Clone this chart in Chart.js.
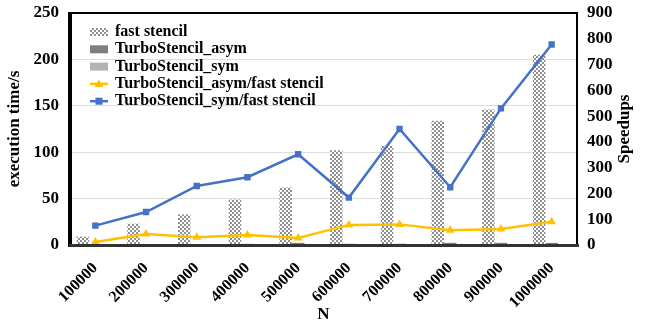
<!DOCTYPE html>
<html>
<head>
<meta charset="utf-8">
<script src="https://cdn.jsdelivr.net/npm/chart.js@4.4.1/dist/chart.umd.min.js"></script>
<style>
  html, body { margin: 0; padding: 0; background: #fff; }
  #wrap { width: 647px; height: 333px; position: relative; }
</style>
</head>
<body>
<div id="wrap"><canvas id="chart"></canvas></div>
<script>
// Problem sizes
const categories = ['100000', '200000', '300000', '400000', '500000',
                    '600000', '700000', '800000', '900000', '1000000'];
// Execution times in seconds
const fastStencil = [9, 23, 33, 49, 62, 102, 107, 134, 146, 205];
const turboAsym   = [0.75, 0.53, 1.1, 1.26, 2.3, 1.3, 1.34, 2.35, 2.35, 2.28];
const turboSym    = [0.12, 0.18, 0.14, 0.19, 0.18, 0.55, 0.24, 0.6, 0.28, 0.26];
// Speedups over fast stencil
const speedupAsym = [12, 43, 30, 39, 27, 78, 80, 57, 62, 90];
const speedupSym  = [75, 128, 229, 263, 352, 184, 450, 224, 530, 778];
// Axis ticks
const timeTicks = [0, 50, 100, 150, 200, 250];
const speedupTicks = [0, 100, 200, 300, 400, 500, 600, 700, 800, 900];

const SERIF = '"Liberation Serif", "Times New Roman", serif';
const BLUE = '#4472C4';
const GOLD = '#FFC000';

// fine checkered fill for the fast stencil bars
function checkerPattern() {
  const t = document.createElement('canvas');
  t.width = 4; t.height = 4;
  const c = t.getContext('2d');
  c.fillStyle = '#ffffff';
  c.fillRect(0, 0, 4, 4);
  c.fillStyle = '#8f8f8f';
  c.fillRect(0, 0, 2, 2);
  c.fillRect(2, 2, 2, 2);
  return c.createPattern(t, 'repeat');
}
const checker = checkerPattern();

// legend drawn inside the plot area, top-left
function drawLegend(chart) {
  const c = chart.ctx;
  const x0 = 90, y0 = 32, row = 17.3;
  c.save();
  c.font = 'bold 16px ' + SERIF;
  c.textBaseline = 'middle';
  c.textAlign = 'left';
  chart.data.datasets.forEach((ds, i) => {
    const y = y0 + i * row;
    if (ds.type === 'line') {
      c.fillStyle = ds.borderColor;
      c.fillRect(x0, y - 1.25, 18, 2.5);
      const mx = x0 + 9;
      if (ds.pointStyle === 'triangle') {
        c.beginPath();
        c.moveTo(mx, y - 4.5);
        c.lineTo(mx + 4.5, y + 3);
        c.lineTo(mx - 4.5, y + 3);
        c.closePath();
        c.fill();
      } else {
        c.fillRect(mx - 3.5, y - 3.5, 7, 7);
      }
    } else {
      c.fillStyle = ds.backgroundColor;
      c.fillRect(x0, y - 4, 18, 8);
    }
    c.fillStyle = '#000';
    c.fillText(ds.label, x0 + 25, y);
  });
  c.restore();
}

// black frame around the plot, taken from the scale extents
function drawFrame(chart) {
  const xs = chart.scales.x, ys = chart.scales.y;
  const L = Math.round(xs.left), R = Math.round(xs.right);
  const T = Math.round(ys.top), B = Math.round(ys.bottom);
  const c = chart.ctx;
  c.save();
  c.setTransform(1, 0, 0, 1, 0, 0);
  c.globalAlpha = 1;
  c.globalCompositeOperation = 'source-over';
  c.fillStyle = '#000000';
  c.fillRect(L - 1, T - 1, R - L + 2, 2);   // top
  c.fillRect(R - 1, T - 1, 2, B - T + 2);   // right
  c.fillRect(L - 2, T - 1, 3, B - T + 3);   // left
  c.fillStyle = '#333333';
  c.fillRect(L - 1, B - 1, R - L + 2, 3);   // bottom
  c.restore();
}

// right axis title, reading bottom to top
function drawRightTitle(chart) {
  const c = chart.ctx;
  const ys = chart.scales.y;
  c.save();
  c.translate(625, (ys.top + ys.bottom) / 2);
  c.rotate(-Math.PI / 2);
  c.font = 'bold 17px ' + SERIF;
  c.fillStyle = '#000';
  c.textAlign = 'center';
  c.textBaseline = 'middle';
  c.fillText('Speedups', 0, 0);
  c.restore();
}

const decorations = {
  id: 'decorations',
  afterDraw(chart) {
    drawRightTitle(chart);
    drawLegend(chart);
    drawFrame(chart);
  }
};

const lastEdge = categories.length;

new Chart(document.getElementById('chart'), {
  data: {
    labels: categories,
    datasets: [
      { type: 'bar', label: 'fast stencil', data: fastStencil,
        backgroundColor: checker, yAxisID: 'y', order: 2 },
      { type: 'bar', label: 'TurboStencil_asym', data: turboAsym,
        backgroundColor: '#7f7f7f', yAxisID: 'y', order: 2 },
      { type: 'bar', label: 'TurboStencil_sym', data: turboSym,
        backgroundColor: '#b3b3b3', yAxisID: 'y', order: 2 },
      { type: 'line', label: 'TurboStencil_asym/fast stencil', data: speedupAsym,
        borderColor: GOLD, backgroundColor: GOLD, borderWidth: 2.5,
        pointStyle: 'triangle', pointRadius: 5, pointBorderWidth: 0,
        yAxisID: 'y1', order: 0 },
      { type: 'line', label: 'TurboStencil_sym/fast stencil', data: speedupSym,
        borderColor: BLUE, backgroundColor: BLUE, borderWidth: 2.5,
        pointStyle: 'rect', pointRadius: 4.5, pointBorderWidth: 0,
        yAxisID: 'y1', order: 0 }
    ]
  },
  options: {
    responsive: true,
    maintainAspectRatio: false,
    animation: false,
    layout: { padding: { top: 13, left: 0, right: 0, bottom: 0 } },
    datasets: {
      bar: { categoryPercentage: 0.74, barPercentage: 1.0 }
    },
    plugins: {
      legend: { display: false },
      tooltip: { enabled: false }
    },
    scales: {
      x: {
        // only the outer grid lines are shown: they close the frame left and right
        grid: {
          drawTicks: false,
          color: (g) => (g.index === 0 || g.index === lastEdge ? '#000' : 'rgba(0,0,0,0)'),
          lineWidth: (g) => (g.index === 0 ? 3 : 2)
        },
        border: { display: true, color: '#333', width: 3 },
        ticks: {
          minRotation: 45, maxRotation: 45, padding: 14,
          color: '#000', font: { family: SERIF, size: 16, weight: 'bold' }
        },
        title: {
          display: true, text: 'N', color: '#000',
          font: { family: SERIF, size: 17, weight: 'bold' },
          padding: { top: 0, bottom: 8 }
        },
        afterFit(s) { s.height = 88; s.paddingLeft = 0; s.paddingRight = 0; }
      },
      y: {
        position: 'left',
        min: timeTicks[0], max: timeTicks[timeTicks.length - 1],
        afterBuildTicks(s) { s.ticks = timeTicks.map(v => ({ value: v })); },
        grid: {
          drawTicks: false,
          color: (g) => (g.tick && g.tick.value === timeTicks[timeTicks.length - 1] ? '#000' : '#dcdcdc'),
          lineWidth: (g) => (g.tick && g.tick.value === timeTicks[timeTicks.length - 1] ? 2 : 1)
        },
        border: { display: true, color: '#000', width: 3 },
        ticks: {
          padding: 11, color: '#000',
          font: { family: SERIF, size: 17, weight: 'bold' }
        },
        title: {
          display: true, text: 'execution time/s', color: '#000',
          font: { family: SERIF, size: 17, weight: 'bold' },
          padding: { top: 4, bottom: 0 }
        },
        afterFit(s) { s.width = 70; s.paddingTop = 0; s.paddingBottom = 0; }
      },
      y1: {
        position: 'right',
        min: speedupTicks[0], max: speedupTicks[speedupTicks.length - 1],
        afterBuildTicks(s) { s.ticks = speedupTicks.map(v => ({ value: v })); },
        grid: { display: false, drawTicks: false },
        border: { display: true, color: '#000', width: 2 },
        ticks: {
          padding: 10, color: '#000',
          font: { family: SERIF, size: 17, weight: 'bold' }
        },
        afterFit(s) { s.width = 70; s.paddingTop = 0; s.paddingBottom = 0; }
      }
    }
  },
  plugins: [decorations]
});
</script>
</body>
</html>
